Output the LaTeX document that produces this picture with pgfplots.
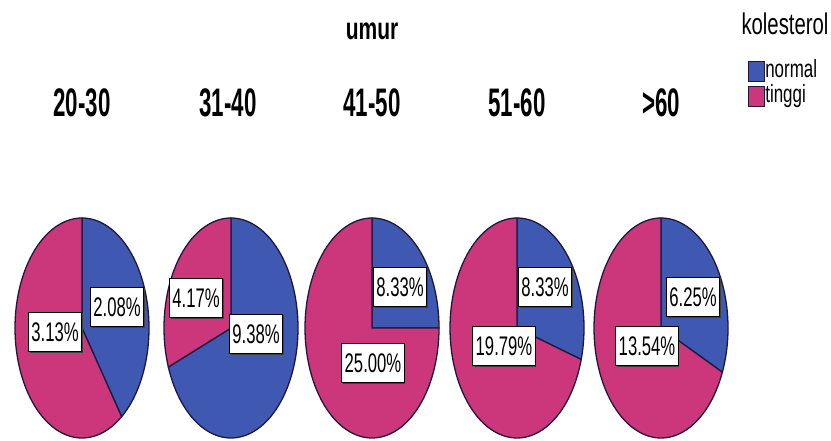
\documentclass[border=0pt]{standalone}
\usepackage{pgfplots}
\pgfplotsset{compat=1.18}
\usetikzlibrary{shadows}
\usepackage{fontspec}
\setmainfont{Liberation Sans}
\newfontfamily\nar[FakeStretch=0.6]{Liberation Sans}
\newfontfamily\narc[FakeStretch=0.56]{Liberation Sans}
\newfontfamily\narw[FakeStretch=0.68]{Liberation Sans}
\newfontfamily\narl[FakeStretch=0.62]{Liberation Sans}
\definecolor{cnormal}{RGB}{63,88,178}
\definecolor{ctinggi}{RGB}{204,54,122}
\definecolor{cedge}{RGB}{30,25,60}

\begin{document}
\begin{tikzpicture}[
  lbl/.style={draw=black, fill=white, line width=0.9bp,
    drop shadow={shadow xshift=1.2bp, shadow yshift=-1.2bp, fill=black!75, opacity=1},
    font=\narl\fontsize{27}{27}\selectfont, inner xsep=3bp, inner ysep=10bp,
    text height=19.5bp, text depth=0bp},
  cat/.style={font=\narc\bfseries\fontsize{40}{40}\selectfont, anchor=base}]
% share of all respondents (percent): normal / tinggi per age group
\def\nA{2.08}\def\tA{3.13}
\def\nB{9.38}\def\tB{4.17}
\def\nC{8.33}\def\tC{25.00}
\def\nD{8.33}\def\tD{19.79}
\def\nE{6.25}\def\tE{13.54}
\pgfmathsetmacro\aA{90-360*\nA/(\nA+\tA)}
\pgfmathsetmacro\aB{90-360*\nB/(\nB+\tB)}
\pgfmathsetmacro\aC{90-360*\nC/(\nC+\tC)}
\pgfmathsetmacro\aD{90-360*\nD/(\nD+\tD)}
\pgfmathsetmacro\aE{90-360*\nE/(\nE+\tE)}
\def\rx{67}\def\ry{110}\def\cy{328}
\begin{axis}[
  hide axis, scale only axis,
  width=831bp, height=441bp,
  xmin=0, xmax=831, ymin=0, ymax=441,
  y dir=reverse, clip=false,
  legend style={at={(axis cs:748,59)}, anchor=north west, draw=none, fill=none,
    inner sep=0pt, font=\narw\fontsize{25}{25}\selectfont,
    nodes={inner sep=0.3bp, text height=18.5bp, text depth=5.5bp}},
  legend cell align=left,
  legend image code/.code={\draw[#1,line width=0.8bp] (0bp,-10bp) rectangle (16bp,10bp);},
  wedge/.style={forget plot, draw=cedge, line width=1.3bp, samples=90, variable=\t},
]
% 20-30
\addplot[wedge, fill=cnormal, domain=90:\aA] ({82+\rx*cos(\t)},{\cy-\ry*sin(\t)}) -- (axis cs:82,\cy) -- cycle;
\addplot[wedge, fill=ctinggi, domain=\aA:-270] ({82+\rx*cos(\t)},{\cy-\ry*sin(\t)}) -- (axis cs:82,\cy) -- cycle;
% 31-40
\addplot[wedge, fill=cnormal, domain=90:\aB] ({231+\rx*cos(\t)},{\cy-\ry*sin(\t)}) -- (axis cs:231,\cy) -- cycle;
\addplot[wedge, fill=ctinggi, domain=\aB:-270] ({231+\rx*cos(\t)},{\cy-\ry*sin(\t)}) -- (axis cs:231,\cy) -- cycle;
% 41-50
\addplot[wedge, fill=cnormal, domain=90:\aC] ({372+\rx*cos(\t)},{\cy-\ry*sin(\t)}) -- (axis cs:372,\cy) -- cycle;
\addplot[wedge, fill=ctinggi, domain=\aC:-270] ({372+\rx*cos(\t)},{\cy-\ry*sin(\t)}) -- (axis cs:372,\cy) -- cycle;
% 51-60
\addplot[wedge, fill=cnormal, domain=90:\aD] ({517+\rx*cos(\t)},{\cy-\ry*sin(\t)}) -- (axis cs:517,\cy) -- cycle;
\addplot[wedge, fill=ctinggi, domain=\aD:-270] ({517+\rx*cos(\t)},{\cy-\ry*sin(\t)}) -- (axis cs:517,\cy) -- cycle;
% >60
\addplot[wedge, fill=cnormal, domain=90:\aE] ({661+\rx*cos(\t)},{\cy-\ry*sin(\t)}) -- (axis cs:661,\cy) -- cycle;
\addplot[wedge, fill=ctinggi, domain=\aE:-270] ({661+\rx*cos(\t)},{\cy-\ry*sin(\t)}) -- (axis cs:661,\cy) -- cycle;

\addlegendimage{fill=cnormal, draw=cedge}
\addlegendentry{normal}
\addlegendimage{fill=ctinggi, draw=cedge}
\addlegendentry{tinggi}

% percentage labels
\node[lbl] at (axis cs:117,307) {2.08\%};
\node[lbl] at (axis cs:55,332) {3.13\%};
\node[lbl] at (axis cs:196,298) {4.17\%};
\node[lbl] at (axis cs:256,334) {9.38\%};
\node[lbl] at (axis cs:400,287) {8.33\%};
\node[lbl] at (axis cs:373,363) {25.00\%};
\node[lbl] at (axis cs:545,287) {8.33\%};
\node[lbl] at (axis cs:504,346) {19.79\%};
\node[lbl] at (axis cs:693,297) {6.25\%};
\node[lbl] at (axis cs:647,346) {13.54\%};

% titles
\node[font=\narw\bfseries\fontsize{31}{31}\selectfont, anchor=base] at (axis cs:372,40) {umur};
\node[cat] at (axis cs:82,117) {20-30};
\node[cat] at (axis cs:228,117) {31-40};
\node[cat] at (axis cs:372,117) {41-50};
\node[cat] at (axis cs:517,117) {51-60};
\node[cat] at (axis cs:661,117) {>60};
\node[font=\narw\fontsize{30}{30}\selectfont, anchor=base] at (axis cs:785,35) {kolesterol};
\end{axis}
\pgfresetboundingbox
\useasboundingbox (current axis.south west) rectangle (current axis.north east);
\end{tikzpicture}
\end{document}
